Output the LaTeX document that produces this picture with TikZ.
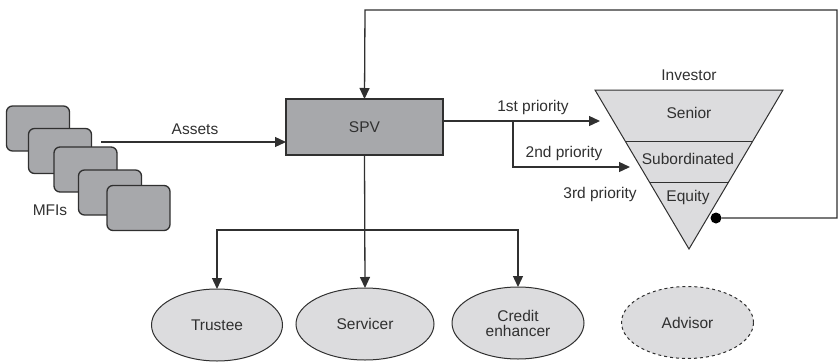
\documentclass[tikz,border=0pt]{standalone}
\usepackage{fontspec}
\setmainfont{Liberation Sans}
\usetikzlibrary{arrows.meta,calc,shapes.geometric}
\definecolor{boxgray}{HTML}{A7A8AB}
\definecolor{lightgray}{HTML}{DCDCDE}
\definecolor{ink}{HTML}{303030}
\tikzset{
  x=1pt, y=-1pt,
  every node/.style={font=\fontsize{15.5}{17}\selectfont, text=ink},
  arr/.style={draw=ink, line width=1.3pt, -{Triangle[length=11pt,width=10pt]}},
  conn/.style={draw=ink, line width=1.3pt},
  mfibox/.style={draw=ink, line width=1.3pt, fill=boxgray, rounded corners=6pt,
    minimum width=63pt, minimum height=45pt, inner sep=0pt, outer sep=0pt},
  spvbox/.style={draw=ink, line width=1.3pt, fill=boxgray,
    minimum width=157pt, minimum height=56pt, inner sep=0pt, outer sep=0pt},
  party/.style={ellipse, draw=ink, line width=1pt, fill=lightgray,
    minimum width=132pt, minimum height=72pt, inner sep=0pt, outer sep=0pt, align=center},
  lbl/.style={inner sep=0pt}
}
\begin{document}
\begin{tikzpicture}
\useasboundingbox (0,0) rectangle (839,362);

% stack of MFI boxes
\node[mfibox] (m1) at (38,128.5) {};
\node[mfibox] (m2) at (60,151) {};
\node[mfibox] (m3) at (85.5,169.5) {};
\node[mfibox] (m4) at (110,192.5) {};
\node[mfibox] (m5) at (138.5,208) {};
\node[lbl] (mfis) at (50,210) {MFIs};

% special purpose vehicle
\node[spvbox] (spv) at (364.5,127) {SPV};

% tranche triangle
\path[draw=ink, line width=1pt, fill=lightgray] (595,90) -- (783,90) -- (689,249) -- cycle;
\draw[ink, line width=1pt] (625,141) -- (753,141);
\draw[ink, line width=1pt] (649.5,182) -- (728.5,182);
\node[lbl] (investor) at (689,75) {Investor};
\node[lbl] (senior) at (689,113) {Senior};
\node[lbl] (sub) at (688,159) {Subordinated};
\node[lbl] (equity) at (688,197) {Equity};
\node[circle, fill=black, minimum size=11pt, inner sep=0pt] (dot) at (716,218) {};

% parties
\node[party, minimum width=131pt] (trustee) at (217,325) {Trustee};
\node[party, minimum width=138pt] (servicer) at (365,324) {Servicer};
\node[party] (credit) at (518,323) {Credit\\[-2pt]enhancer};
\node[party, dashed] (advisor) at (687.5,322.5) {Advisor};

% asset transfer
\coordinate (astart) at (101,142);
\draw[arr] (astart) -- (astart -| spv.west);
\node[lbl] (assets) at (195,129) {Assets};

% priority payments
\coordinate (p1) at (443,121);
\coordinate (t1) at (600,121);
\coordinate (br) at (513,121);
\coordinate (t2) at (630,167);
\draw[arr] (p1) -- (t1);
\draw[arr] (br) |- (t2);
\node[lbl] (first) at (533,107) {1st priority};
\node[lbl] (second) at (564,153) {2nd priority};
\node[lbl] (third) at (600,194) {3rd priority};

% feedback from equity to SPV
\coordinate (c1) at (837,218);
\coordinate (c2) at (837,10);
\coordinate (c3) at (365,10);
\draw[arr] (dot) -- (c1) -- (c2) -- (c3) -- (spv.north);

% distribution to parties
\coordinate (hub) at (365,230);
\draw[arr] (spv.south) -- (servicer.north);
\draw[arr] (hub) -| (trustee.north);
\draw[arr] (hub) -| (credit.north);
\end{tikzpicture}
\end{document}
